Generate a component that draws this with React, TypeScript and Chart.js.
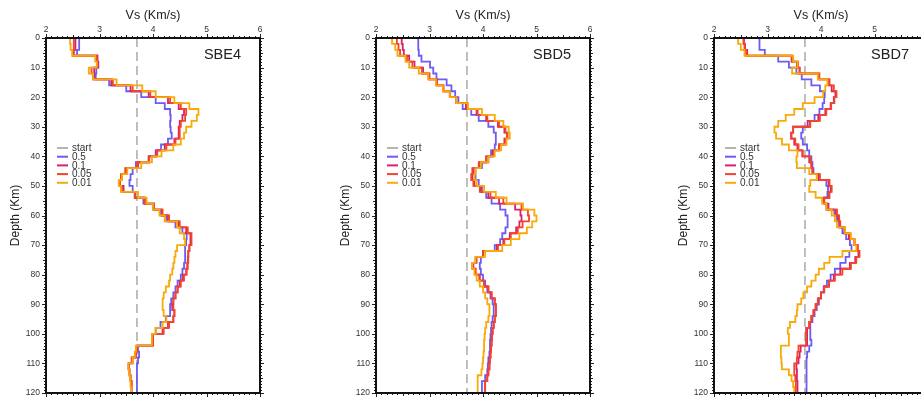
import React, { useEffect, useRef } from 'react';
import { Chart, registerables } from 'chart.js';

Chart.register(...registerables);

// ---------- data ----------
const DEPTH_TOPS = [
  0, 2, 4, 6, 8, 10, 12, 14, 16, 18,
  20, 22, 24, 26, 28, 30, 32, 34, 36, 38,
  40, 42, 44, 46, 48, 50, 52, 54, 56, 58,
  60, 62, 64, 66, 68, 70, 72, 74, 76, 78,
  80, 82, 84, 86, 88, 90, 92, 94, 96, 98,
  100, 102, 104, 106, 108, 110, 112, 114, 116, 118,
];
const DEPTH_BOTTOM = 120;
const START_VS = 3.7;
const X_TICKS = [2, 3, 4, 5, 6];
const Y_TICKS = [0, 10, 20, 30, 40, 50, 60, 70, 80, 90, 100, 110, 120];
const SERIES_LABELS = ['start', '0.5', '0.1', '0.05', '0.01'];
const PANEL_NAMES = ['SBE4', 'SBD5', 'SBD7'];

const SBE4_05 = [
  2.62, 2.62, 2.58, 2.96, 2.98, 2.94, 2.93, 3.18, 3.50, 3.78,
  4.05, 4.22, 4.32, 4.33, 4.32, 4.33, 4.35, 4.28, 4.15, 4.05,
  3.92, 3.68, 3.62, 3.58, 3.56, 3.62, 3.66, 3.82, 4.00, 4.15,
  4.25, 4.42, 4.55, 4.63, 4.62, 4.60, 4.60, 4.60, 4.58, 4.55,
  4.52, 4.46, 4.42, 4.38, 4.34, 4.32, 4.32, 4.24, 4.14, 4.05,
  3.98, 3.98, 3.72, 3.74, 3.72, 3.70, 3.70, 3.70, 3.70, 3.70,
];
const SBE4_01 = [
  2.55, 2.55, 2.52, 2.96, 2.97, 2.90, 2.90, 3.22, 3.58, 3.92,
  4.28, 4.48, 4.58, 4.55, 4.50, 4.48, 4.48, 4.40, 4.22, 4.06,
  3.92, 3.72, 3.50, 3.42, 3.38, 3.45, 3.66, 3.85, 4.02, 4.17,
  4.28, 4.48, 4.62, 4.70, 4.70, 4.68, 4.66, 4.65, 4.64, 4.62,
  4.56, 4.50, 4.46, 4.42, 4.38, 4.36, 4.40, 4.38, 4.28, 4.18,
  4.00, 4.00, 3.70, 3.68, 3.62, 3.55, 3.56, 3.58, 3.60, 3.60,
];
const SBE4_005 = [
  2.52, 2.52, 2.50, 2.95, 2.96, 2.85, 2.88, 3.25, 3.62, 3.95,
  4.32, 4.52, 4.62, 4.60, 4.52, 4.50, 4.50, 4.42, 4.25, 4.08,
  3.93, 3.70, 3.48, 3.40, 3.38, 3.42, 3.66, 3.84, 4.02, 4.18,
  4.30, 4.50, 4.65, 4.72, 4.72, 4.68, 4.66, 4.66, 4.65, 4.63,
  4.58, 4.52, 4.46, 4.42, 4.38, 4.38, 4.40, 4.38, 4.30, 4.20,
  4.00, 4.00, 3.70, 3.68, 3.60, 3.54, 3.56, 3.58, 3.60, 3.60,
];
const SBE4_001 = [
  2.45, 2.46, 2.49, 2.92, 2.95, 2.80, 2.88, 3.32, 3.80, 4.05,
  4.40, 4.68, 4.85, 4.82, 4.72, 4.62, 4.58, 4.52, 4.38, 4.16,
  3.98, 3.78, 3.52, 3.42, 3.36, 3.40, 3.72, 3.88, 4.00, 4.12,
  4.22, 4.45, 4.50, 4.58, 4.60, 4.45, 4.42, 4.40, 4.38, 4.36,
  4.32, 4.30, 4.24, 4.20, 4.18, 4.18, 4.20, 4.25, 4.18, 4.05,
  3.98, 3.98, 3.68, 3.66, 3.62, 3.54, 3.55, 3.57, 3.58, 3.60,
];

const SBD5_05 = [
  2.79, 2.79, 2.80, 2.85, 3.01, 3.07, 3.13, 3.32, 3.41, 3.48,
  3.54, 3.62, 3.78, 3.92, 4.10, 4.20, 4.24, 4.24, 4.22, 4.15,
  4.10, 3.98, 3.86, 3.86, 3.92, 3.98, 4.06, 4.16, 4.32, 4.42,
  4.46, 4.46, 4.42, 4.36, 4.32, 4.22, 4.00, 3.96, 3.94, 3.96,
  4.00, 4.04, 4.08, 4.14, 4.18, 4.20, 4.20, 4.18, 4.16, 4.15,
  4.14, 4.13, 4.13, 4.12, 4.10, 4.09, 4.08, 4.04, 3.98, 3.98,
];
const SBD5_01 = [
  2.48, 2.50, 2.52, 2.62, 2.72, 2.88, 3.00, 3.14, 3.26, 3.38,
  3.50, 3.68, 3.88, 4.06, 4.28, 4.40, 4.45, 4.40, 4.30, 4.18,
  4.06, 3.94, 3.82, 3.80, 3.84, 3.96, 4.10, 4.30, 4.60, 4.70,
  4.72, 4.68, 4.62, 4.50, 4.38, 4.26, 4.00, 3.88, 3.82, 3.86,
  3.94, 4.02, 4.10, 4.16, 4.22, 4.24, 4.24, 4.22, 4.20, 4.18,
  4.17, 4.16, 4.15, 4.14, 4.12, 4.12, 4.10, 4.08, 4.04, 4.04,
];
const SBD5_005 = [
  2.39, 2.42, 2.45, 2.58, 2.68, 2.86, 2.98, 3.13, 3.26, 3.38,
  3.50, 3.70, 3.90, 4.08, 4.30, 4.42, 4.46, 4.42, 4.30, 4.20,
  4.06, 3.92, 3.80, 3.78, 3.82, 3.94, 4.14, 4.38, 4.72, 4.84,
  4.86, 4.74, 4.65, 4.52, 4.40, 4.28, 4.00, 3.86, 3.80, 3.86,
  3.93, 4.02, 4.10, 4.16, 4.22, 4.24, 4.24, 4.22, 4.20, 4.18,
  4.17, 4.16, 4.15, 4.14, 4.13, 4.12, 4.10, 4.08, 4.04, 4.04,
];
const SBD5_001 = [
  2.30, 2.36, 2.40, 2.55, 2.62, 2.80, 2.98, 3.12, 3.25, 3.38,
  3.50, 3.72, 3.98, 4.22, 4.38, 4.48, 4.50, 4.44, 4.34, 4.22,
  4.10, 3.96, 3.86, 3.84, 3.88, 4.02, 4.24, 4.44, 4.75, 4.96,
  5.00, 4.92, 4.82, 4.68, 4.52, 4.36, 4.04, 3.86, 3.80, 3.84,
  3.88, 3.94, 4.00, 4.04, 4.08, 4.12, 4.12, 4.10, 4.06, 4.04,
  4.03, 4.02, 4.02, 4.01, 4.00, 3.99, 3.97, 3.90, 3.90, 3.90,
];

const SBD7_05 = [
  2.85, 2.85, 2.95, 3.20, 3.40, 3.54, 3.64, 3.82, 3.98, 4.07,
  4.06, 4.03, 3.97, 3.88, 3.79, 3.66, 3.63, 3.66, 3.74, 3.78,
  3.82, 3.84, 3.86, 3.95, 4.10, 4.13, 4.12, 4.05, 4.10, 4.25,
  4.30, 4.34, 4.40, 4.47, 4.54, 4.57, 4.53, 4.46, 4.36, 4.26,
  4.18, 4.11, 4.05, 4.00, 3.96, 3.92, 3.88, 3.84, 3.80, 3.80,
  3.80, 3.82, 3.78, 3.74, 3.73, 3.73, 3.73, 3.73, 3.73, 3.73,
];
const SBD7_01 = [
  2.56, 2.58, 2.62, 3.45, 3.55, 3.60, 3.95, 4.15, 4.20, 4.27,
  4.24, 4.18, 4.08, 3.95, 3.75, 3.48, 3.44, 3.50, 3.56, 3.65,
  3.78, 3.82, 3.84, 3.96, 4.14, 4.18, 4.15, 4.06, 4.14, 4.28,
  4.32, 4.35, 4.44, 4.52, 4.62, 4.68, 4.70, 4.64, 4.54, 4.36,
  4.24, 4.15, 4.06, 4.00, 3.95, 3.90, 3.86, 3.82, 3.78, 3.74,
  3.74, 3.74, 3.62, 3.60, 3.58, 3.54, 3.55, 3.55, 3.56, 3.56,
];
const SBD7_005 = [
  2.55, 2.57, 2.60, 3.46, 3.57, 3.60, 3.97, 4.16, 4.24, 4.29,
  4.25, 4.19, 4.10, 3.98, 3.80, 3.48, 3.45, 3.52, 3.58, 3.66,
  3.80, 3.82, 3.84, 3.98, 4.16, 4.20, 4.16, 4.06, 4.12, 4.30,
  4.34, 4.36, 4.44, 4.54, 4.63, 4.69, 4.72, 4.66, 4.56, 4.40,
  4.26, 4.15, 4.06, 4.00, 3.94, 3.90, 3.86, 3.82, 3.78, 3.72,
  3.72, 3.72, 3.58, 3.56, 3.55, 3.50, 3.50, 3.52, 3.53, 3.53,
];
const SBD7_001 = [
  2.45, 2.50, 2.57, 3.48, 3.56, 3.46, 3.94, 4.12, 4.08, 4.04,
  3.88, 3.66, 3.50, 3.34, 3.20, 3.13, 3.16, 3.27, 3.40, 3.56,
  3.54, 3.55, 3.78, 3.92, 3.80, 3.78, 3.90, 4.02, 4.10, 4.20,
  4.26, 4.30, 4.45, 4.56, 4.62, 4.66, 4.40, 4.16, 4.06, 3.96,
  3.90, 3.82, 3.74, 3.67, 3.63, 3.56, 3.55, 3.52, 3.42, 3.38,
  3.40, 3.40, 3.25, 3.25, 3.26, 3.27, 3.40, 3.45, 3.48, 3.50,
];

const PANEL_SERIES = [
  [SBE4_05, SBE4_01, SBE4_005, SBE4_001],
  [SBD5_05, SBD5_01, SBD5_005, SBD5_001],
  [SBD7_05, SBD7_01, SBD7_005, SBD7_001],
];

// ---------- style ----------
const FONT = '"Liberation Sans", Arial, Helvetica, sans-serif';
const COLORS = ['#b4b4b4', '#6c5cf2', '#d8206c', '#f2452a', '#f7aa0a'];
const PANEL_LEFTS = [0, 330, 668];
const CANVAS_W = 310;
const CANVAS_H = 410;

Chart.defaults.font.family = FONT;

function profile(vs: number[]) {
  const pts = vs.map((v, i) => ({ x: v, y: DEPTH_TOPS[i] }));
  pts.push({ x: vs[vs.length - 1], y: DEPTH_BOTTOM });
  return pts;
}

const decoPlugin = {
  id: 'panelDeco',
  afterDatasetsDraw(chart: any, _args: any, opts: any) {
    const { ctx, chartArea: a, scales } = chart;
    const xs = scales.x;
    const ys = scales.y;
    ctx.save();
    ctx.setLineDash([]);
    // tick marks on all four sides
    ctx.strokeStyle = '#222';
    ctx.lineWidth = 1;
    ctx.beginPath();
    const xMin = X_TICKS[0];
    const xMax = X_TICKS[X_TICKS.length - 1];
    const nx = Math.round((xMax - xMin) * 10);
    for (let i = 0; i <= nx; i++) {
      const v = xMin + i / 10;
      const px = Math.round(xs.getPixelForValue(v)) + 0.5;
      const len = i % 10 === 0 ? 4 : i % 5 === 0 ? 3 : 2;
      ctx.moveTo(px, a.top);
      ctx.lineTo(px, a.top - len);
      ctx.moveTo(px, a.bottom);
      ctx.lineTo(px, a.bottom + len);
    }
    const yMax = Y_TICKS[Y_TICKS.length - 1];
    for (let d = 0; d <= yMax; d++) {
      const py = Math.round(ys.getPixelForValue(d)) + 0.5;
      const len = d % 10 === 0 ? 4 : d % 5 === 0 ? 3 : 2;
      ctx.moveTo(a.left, py);
      ctx.lineTo(a.left - len, py);
      ctx.moveTo(a.right, py);
      ctx.lineTo(a.right + len, py);
    }
    ctx.stroke();
    // frame
    ctx.lineWidth = 2;
    ctx.strokeStyle = '#111';
    ctx.strokeRect(a.left, a.top, a.right - a.left, a.bottom - a.top);
    // panel title
    ctx.fillStyle = '#222';
    ctx.font = `14.5px ${FONT}`;
    ctx.textAlign = 'right';
    ctx.textBaseline = 'middle';
    ctx.fillText(opts.title, a.right - 19, a.top + 16.5);
    // legend
    ctx.font = `10px ${FONT}`;
    ctx.textAlign = 'left';
    chart.data.datasets.forEach((ds: any, i: number) => {
      const yy = a.top + 110 + i * 8.7;
      ctx.strokeStyle = ds.borderColor;
      ctx.lineWidth = 2;
      ctx.beginPath();
      ctx.moveTo(a.left + 11, yy);
      ctx.lineTo(a.left + 22, yy);
      ctx.stroke();
      ctx.fillStyle = '#333';
      ctx.fillText(ds.label, a.left + 26, yy + 0.5);
    });
    ctx.restore();
  },
};

function Panel({ index }: { index: number }) {
  const ref = useRef<HTMLCanvasElement>(null);
  useEffect(() => {
    const series = PANEL_SERIES[index];
    const datasets: any[] = [
      {
        label: SERIES_LABELS[0],
        data: [
          { x: START_VS, y: 0 },
          { x: START_VS, y: DEPTH_BOTTOM },
        ],
        borderColor: COLORS[0],
        borderDash: [9, 5],
        borderWidth: 1.7,
        showLine: true,
        pointRadius: 0,
        order: 5,
      },
    ];
    series.forEach((vs, i) => {
      datasets.push({
        label: SERIES_LABELS[i + 1],
        data: profile(vs),
        borderColor: COLORS[i + 1],
        backgroundColor: COLORS[i + 1],
        borderWidth: 1.8,
        stepped: 'after',
        showLine: true,
        pointRadius: 0,
        order: 4 - i,
      });
    });
    const chart = new Chart(ref.current as HTMLCanvasElement, {
      type: 'scatter',
      data: { datasets },
      options: {
        animation: false,
        responsive: false,
        devicePixelRatio: 1,
        layout: { padding: { left: 0, top: 0, right: 50, bottom: CANVAS_H - 393 } },
        plugins: {
          legend: { display: false },
          tooltip: { enabled: false },
          panelDeco: { title: PANEL_NAMES[index] },
        } as any,
        scales: {
          x: {
            type: 'linear',
            position: 'top',
            min: X_TICKS[0],
            max: X_TICKS[X_TICKS.length - 1],
            afterBuildTicks: (s: any) => {
              s.ticks = X_TICKS.map((v) => ({ value: v }));
            },
            afterFit: (s: any) => {
              s.height = 38;
              s.paddingLeft = 0;
              s.paddingRight = 0;
            },
            grid: { display: false, drawTicks: false },
            border: { display: false },
            ticks: {
              font: { size: 8.5, family: FONT },
              color: '#333',
              padding: 3,
              maxRotation: 0,
              autoSkip: false,
            },
            title: {
              display: true,
              text: 'Vs (Km/s)',
              font: { size: 12.5, family: FONT },
              color: '#222',
              padding: { top: 8, bottom: 0 },
            },
          },
          y: {
            type: 'linear',
            reverse: true,
            min: Y_TICKS[0],
            max: Y_TICKS[Y_TICKS.length - 1],
            afterBuildTicks: (s: any) => {
              s.ticks = Y_TICKS.map((v) => ({ value: v }));
            },
            afterFit: (s: any) => {
              s.width = 46;
              s.paddingTop = 0;
              s.paddingBottom = 0;
            },
            grid: { display: false, drawTicks: false },
            border: { display: false },
            ticks: {
              font: { size: 8.5, family: FONT },
              color: '#333',
              padding: 6,
              autoSkip: false,
            },
            title: {
              display: true,
              text: 'Depth (Km)',
              font: { size: 12, family: FONT },
              color: '#222',
              padding: { top: 8.3, bottom: 0 },
            },
          },
        },
      } as any,
      plugins: [decoPlugin as any],
    });
    return () => chart.destroy();
  }, [index]);
  return (
    <canvas
      ref={ref}
      width={CANVAS_W}
      height={CANVAS_H}
      style={{
        position: 'absolute',
        left: PANEL_LEFTS[index],
        top: 0,
        width: CANVAS_W,
        height: CANVAS_H,
      }}
    />
  );
}

export default function App() {
  return (
    <div
      style={{
        position: 'absolute',
        left: 0,
        top: 0,
        width: 921,
        height: 398,
        overflow: 'hidden',
        background: '#fff',
      }}
    >
      <Panel index={0} />
      <Panel index={1} />
      <Panel index={2} />
    </div>
  );
}
